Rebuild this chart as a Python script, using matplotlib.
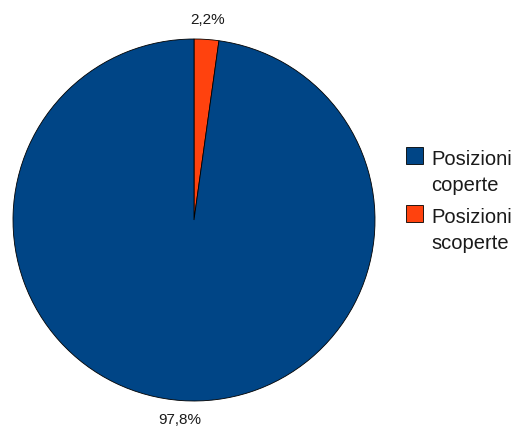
import numpy as np
import matplotlib
matplotlib.use("Agg")
import matplotlib.pyplot as plt
from matplotlib.patches import Rectangle

plt.rcParams['font.family'] = ['Liberation Sans', 'DejaVu Sans']

# share of positions
categories = ["Posizioni\ncoperte", "Posizioni\nscoperte"]
values = [97.8, 2.2]
colors = ["#004586", "#ff420e"]

fig = plt.figure(figsize=(5.17, 4.30), dpi=100)
ax = fig.add_axes([13/517, 29/430, 362/517, 362/430])

# orange slice starts at 12 o'clock going clockwise, so draw it first
wedges, texts = ax.pie(values[::-1], colors=colors[::-1], startangle=90, counterclock=False,
                       wedgeprops=dict(edgecolor="black", linewidth=0.6),
                       labels=[("%.1f%%" % v).replace(".", ",") for v in values[::-1]],
                       labeldistance=1.11, textprops=dict(fontsize=11, color="#1a1a1a"))
for t in texts:
    t.set_horizontalalignment("center")
    t.set_verticalalignment("center")
ax.set_xlim(-1, 1)
ax.set_ylim(-1, 1)
ax.set_aspect("equal")

# legend: square key next to the first line of each two-line label
H = 430
for i, (lab, col) in enumerate(zip(categories, colors)):
    top = 147 + 58 * i
    fig.patches.append(Rectangle((406/517, 1 - (top + 16.5)/H), 16.5/517, 16.5/H,
                                 transform=fig.transFigure, facecolor=col,
                                 edgecolor="black", linewidth=0.6))
    for j, line in enumerate(lab.split("\n")):
        fig.text(431/517, 1 - (top + 18 + 26 * j)/H, line, fontsize=14.5,
                 va="baseline", ha="left", color="#1a1a1a")

fig.savefig("out.png", dpi=100)
